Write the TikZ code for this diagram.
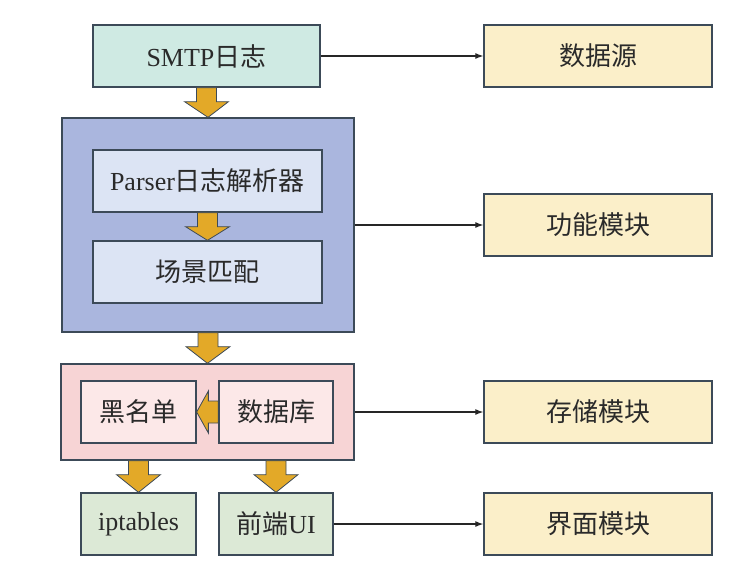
\documentclass[tikz,border=0pt]{standalone}
\usepackage{fontspec}
\setmainfont{Liberation Serif}
\newfontfamily\cjk{Noto Sans CJK SC}
\usetikzlibrary{calc,arrows.meta}
\definecolor{edge}{HTML}{3C4A58}
\definecolor{teal}{HTML}{CFEAE3}
\definecolor{cream}{HTML}{FBEFC9}
\definecolor{blueout}{HTML}{AAB6DE}
\definecolor{bluein}{HTML}{DCE4F4}
\definecolor{pinkout}{HTML}{F7D4D5}
\definecolor{pinkin}{HTML}{FCE8E8}
\definecolor{greenbox}{HTML}{DCE9D6}
\definecolor{gold}{HTML}{E3A928}
\definecolor{txt}{HTML}{2A2A2A}
\tikzset{
  box/.style={draw=edge, line width=1.3pt, inner sep=0pt, text=txt,
    font=\fontsize{26}{30}\selectfont},
  fat/.style={draw=edge, line width=0.8pt, fill=gold},
  link/.style={draw=black!85, line width=1.2pt, -{Latex[length=8pt,width=6pt]}}
}
\newcommand{\fatdown}[2]{%
  \draw[fat] ($#1+(-10,0)$) -- ($#1+(-10,14)$) -- ($#1+(-22,14)$)
    -- #2 -- ($#1+(22,14)$) -- ($#1+(10,14)$) -- ($#1+(10,0)$) -- cycle;}
\begin{document}
\begin{tikzpicture}[x=1pt,y=-1pt]
\useasboundingbox (0,0) rectangle (738,571);
% outer containers
\node[box, fill=blueout, minimum width=292pt, minimum height=214pt] (func) at (208,225) {};
\node[box, fill=pinkout, minimum width=293pt, minimum height=96pt] (store) at (207.5,412) {};
% left column
\node[box, fill=teal, minimum width=227pt, minimum height=62pt] (smtp) at (206.5,56) {SMTP{\cjk 日志}};
\node[box, fill=bluein, minimum width=229pt, minimum height=62pt] (parser) at (207.5,181) {Parser{\cjk 日志解析器}};
\node[box, fill=bluein, minimum width=229pt, minimum height=62pt] (scene) at (207.5,272) {\cjk 场景匹配};
\node[box, fill=pinkin, minimum width=115pt, minimum height=62pt] (black) at (138.5,412) {\cjk 黑名单};
\node[box, fill=pinkin, minimum width=114pt, minimum height=62pt] (db) at (276,412) {\cjk 数据库};
\node[box, fill=greenbox, minimum width=115pt, minimum height=62pt] (ipt) at (138.5,524) {iptables};
\node[box, fill=greenbox, minimum width=114pt, minimum height=62pt] (ui) at (276,524) {{\cjk 前端}UI};
% right column
\node[box, fill=cream, minimum width=228pt, minimum height=62pt] (src) at (598,56) {\cjk 数据源};
\node[box, fill=cream, minimum width=228pt, minimum height=62pt] (fm) at (598,225) {\cjk 功能模块};
\node[box, fill=cream, minimum width=228pt, minimum height=62pt] (sm) at (598,412) {\cjk 存储模块};
\node[box, fill=cream, minimum width=228pt, minimum height=62pt] (im) at (598,524) {\cjk 界面模块};
% links
\draw[link] (smtp.east) -- (src.west);
\draw[link] (func.east) -- (fm.west);
\draw[link] (store.east) -- (sm.west);
\draw[link] (ui.east) -- (im.west);
% fat arrows
\coordinate (s1) at (store.south -| ipt.north);
\coordinate (s2) at (store.south -| ui.north);
\fatdown{(smtp.south)}{(func.north)}
\fatdown{(parser.south)}{(scene.north)}
\fatdown{(func.south)}{(store.north)}
\fatdown{(s1)}{(ipt.north)}
\fatdown{(s2)}{(ui.north)}
\draw[fat] ($(db.west)+(0,-11)$) -- ($(db.west)+(-10,-11)$) -- ($(db.west)+(-10,-21)$)
  -- (black.east) -- ($(db.west)+(-10,21)$) -- ($(db.west)+(-10,11)$) -- ($(db.west)+(0,11)$) -- cycle;
\end{tikzpicture}
\end{document}
